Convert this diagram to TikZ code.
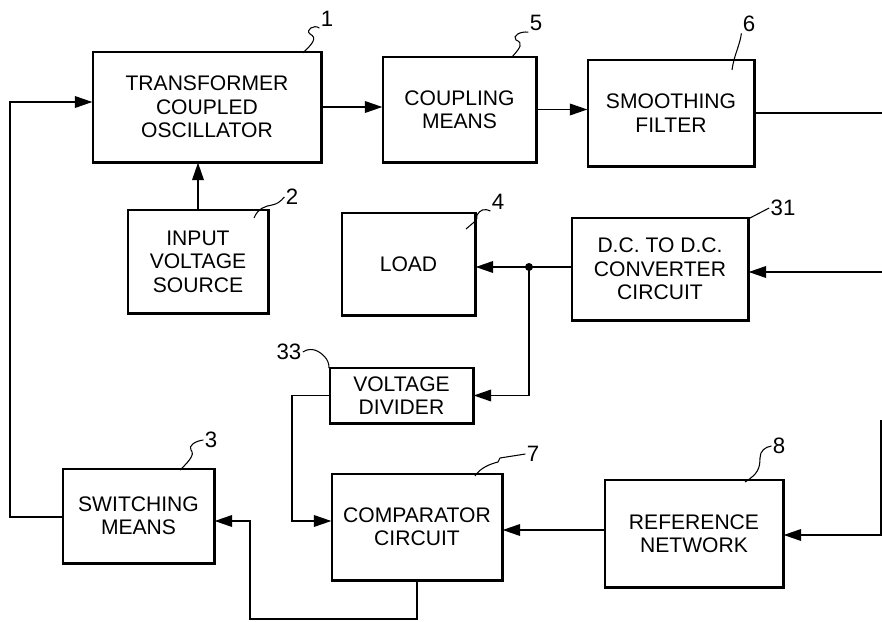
\documentclass[tikz,border=0pt]{standalone}
\usepackage{fontspec}
\setmainfont{Liberation Sans}
\usetikzlibrary{arrows.meta}

\tikzset{
  block/.style={draw, line width=1.1pt, inner sep=0pt, align=center,
    font=\fontsize{18}{20}\selectfont},
  num/.style={font=\fontsize{19}{20}\selectfont, inner sep=1pt},
  wire/.style={line width=1.2pt},
  feed/.style={wire, -{Triangle[length=15pt,width=10pt]}},
  leader/.style={line width=0.9pt}
}

\begin{document}
\begin{tikzpicture}[x=0.03cm, y=-0.03cm]

\useasboundingbox[fill=white] (0,0) rectangle (882,622);

% Blocks
\node[block, minimum width=6.84cm, minimum height=3.3cm]
(osc)
at (207,107)
{TRANSFORMER\\COUPLED\\OSCILLATOR};

\node[block, minimum width=4.59cm, minimum height=3.15cm]
(couple)
at (459.5,109.5)
{COUPLING\\MEANS};

\node[block, minimum width=4.98cm, minimum height=3.18cm]
(smooth)
at (671,113)
{SMOOTHING\\FILTER};

\node[block, minimum width=4.2cm, minimum height=3.09cm]
(src)
at (198,261.5)
{INPUT\\VOLTAGE\\SOURCE};

\node[block, minimum width=3.99cm, minimum height=3.06cm]
(load)
at (408.5,264)
{LOAD};

\node[block, minimum width=5.28cm, minimum height=3.06cm]
(conv)
at (660,269)
{D.C. TO D.C.\\CONVERTER\\CIRCUIT};

\node[block, minimum width=4.29cm, minimum height=1.65cm]
(div)
at (401.5,395.5)
{VOLTAGE\\DIVIDER};

\node[block, minimum width=4.53cm, minimum height=2.82cm]
(sw)
at (138.5,516)
{SWITCHING\\MEANS};

\node[block, minimum width=5.1cm, minimum height=3.18cm]
(comp)
at (417,527)
{COMPARATOR\\CIRCUIT};

\node[block, minimum width=5.34cm, minimum height=3.21cm]
(ref)
at (694,533.5)
{REFERENCE\\NETWORK};

% Heavy lower and right edges
\foreach \b in {osc,couple,smooth,src,load,conv,div,sw,comp,ref}
  \draw[line width=2.2pt]
  (\b.north east) -- (\b.south east) -- (\b.south west);

% Reference numerals
\node[num] (l1) at (327,19) {1};
\node[num] (l5) at (536,23) {5};
\node[num] (l6) at (749,24) {6};
\node[num] (l2) at (292,197) {2};
\node[num] (l4) at (498,202) {4};
\node[num] (l31) at (783,208) {31};
\node[num] (l33) at (289,352) {33};
\node[num] (l3) at (211,440) {3};
\node[num] (l7) at (533,454) {7};
\node[num] (l8) at (779,446) {8};

% Leader lines
\coordinate (t1) at (303,53);
\coordinate (t5) at (512,57);
\coordinate (t6) at (732,70);
\coordinate (t2) at (254,218);
\coordinate (t4) at (466,229);
\coordinate (t31) at (748,219);
\coordinate (t33) at (329,368);
\coordinate (t3) at (180,470);
\coordinate (t7) at (475,476);
\coordinate (t8) at (745,482);

\draw[leader] (t1) .. controls (312,44) and (318,38) .. (310,34)
  .. controls (305,30) and (314,24) .. (l1.south west);
\draw[leader] (t5) .. controls (520,48) and (524,43) .. (516,40)
  .. controls (512,36) and (520,31) .. (l5.south west);
\draw[leader] (t6) .. controls (734,55) and (740,45) .. (l6.south west);
\draw[leader] (t2) .. controls (258,208) and (266,206) .. (272,205)
  .. controls (277,204) and (280,202) .. (l2.west);
\draw[leader] (t4) .. controls (474,222) and (478,220) .. (477,215)
  .. controls (480,210) and (484,208) .. (l4.south west);
\draw[leader] (t31) -- (l31.west);
\draw[leader] (l33.east) .. controls (312,346) and (320,352) .. (324,356)
  .. controls (328,360) and (329,364) .. (t33);
\draw[leader] (t3) .. controls (186,464) and (196,455) .. (191,450)
  .. controls (188,446) and (195,441) .. (l3.west);
\draw[leader] (t7) .. controls (480,468) and (490,464) .. (498,462)
  -- (500,458) -- (l7.west);
\draw[leader] (t8) .. controls (758,474) and (760,468) .. (760,458)
  .. controls (760,451) and (765,447) .. (l8.west);

% Connections
\coordinate (rtop) at (882,111);
\coordinate (rmid) at (882,272);
\coordinate (rlow) at (881,420);
\coordinate (rbot) at (881,535);
\coordinate (tap) at (529,267);
\coordinate (cin) at (292,521);
\coordinate (rcomp) at (540,530);
\coordinate (cbot) at (417,619);
\coordinate (sbot) at (250,619);
\coordinate (sin) at (250,521);
\coordinate (lft) at (10,517);
\coordinate (oin) at (10,102);

\draw[feed] (osc.east) -- (couple.west |- osc.east);
\draw[feed] (couple.east) -- (smooth.west |- couple.east);
\draw[wire] (smooth.east) -- (smooth.east -| rtop);
\draw[feed] (src.north) -- (src.north |- osc.south);

\draw[feed] (rmid) -- (conv.east |- rmid);
\draw[feed] (conv.west |- tap) -- (load.east |- tap);
\fill (tap) circle (4);
\draw[feed] (tap) |- (div.east);

\draw[feed] (div.west) -| (cin) -- (comp.west |- cin);
\draw[feed] (ref.west |- rcomp) -- (comp.east |- rcomp);
\draw[feed] (rlow) -- (rbot) -- (ref.east |- rbot);

\draw[feed] (comp.south) -- (cbot) -- (sbot) -- (sin) -- (sw.east |- sin);
\draw[feed] (sw.west |- lft) -- (lft) -- (oin) -- (osc.west |- oin);

\end{tikzpicture}
\end{document}
